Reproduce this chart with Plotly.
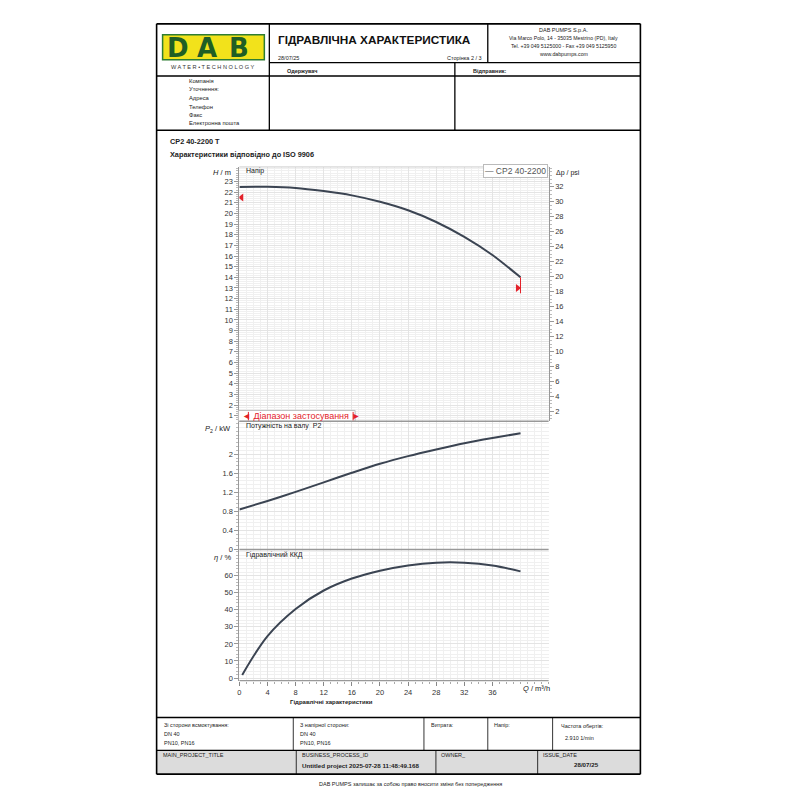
import plotly.graph_objects as go

# ---------------- data ----------------
Q = [0, 4, 8, 12, 16, 20, 24, 28, 32, 36, 40]
H_m = [22.48, 22.5, 22.4, 22.1, 21.7, 21.1, 20.3, 19.2, 17.8, 16.1, 14.0]
P2_kW = [0.84, 1.02, 1.21, 1.41, 1.61, 1.80, 1.96, 2.10, 2.23, 2.34, 2.44]
Q_eta = [0.4, 4, 8, 12, 16, 20, 24, 28, 32, 36, 40]
eta_pct = [1.8, 24.6, 40.5, 51.3, 58.3, 62.9, 66, 67.6, 67.6, 66, 62.5]
range_min = (0.3, 21.5)
range_max = (39.6, 13.0)
x_ticks = [0, 4, 8, 12, 16, 20, 24, 28, 32, 36]
h_ticks = list(range(1, 24))
psi_ticks = list(range(2, 33, 2))
p_ticks = [0, 0.4, 0.8, 1.2, 1.6, 2]
eta_ticks = [0, 10, 20, 30, 40, 50, 60]
M_TO_PSI = 1.4223

FONT = "Liberation Sans, Arial, sans-serif"
W = 800


def px(x):
    return x / W


def py(y):
    return 1 - y / W


H_RANGE = [0.47, 24.37]
fig = go.Figure()

curve = dict(color="#3b4452", width=2)
fig.add_trace(go.Scatter(x=Q, y=H_m, mode="lines", line=dict(shape="spline", smoothing=0.8, **curve),
                         xaxis="x3", yaxis="y", name="CP2 40-2200", showlegend=False))
fig.add_trace(go.Scatter(x=[0], y=[0], mode="markers", marker=dict(opacity=0),
                         xaxis="x3", yaxis="y4", showlegend=False, hoverinfo="skip"))
fig.add_trace(go.Scatter(x=Q, y=P2_kW, mode="lines", line=dict(shape="spline", smoothing=0.8, **curve),
                         xaxis="x2", yaxis="y2", showlegend=False))
fig.add_trace(go.Scatter(x=Q_eta, y=eta_pct, mode="lines", line=dict(shape="spline", smoothing=1.0, **curve),
                         xaxis="x", yaxis="y3", showlegend=False))
# application range markers
fig.add_trace(go.Scatter(x=[range_min[0]], y=[range_min[1]], mode="markers",
                         marker=dict(symbol="triangle-left", size=7, color="#e3222b"),
                         xaxis="x3", yaxis="y", showlegend=False))
fig.add_trace(go.Scatter(x=[range_max[0]], y=[range_max[1]], mode="markers",
                         marker=dict(symbol="triangle-right", size=7, color="#e3222b"),
                         xaxis="x3", yaxis="y", showlegend=False))
fig.add_trace(go.Scatter(x=[Q[-1], Q[-1]], y=[H_m[-1], range_max[1] - 0.5], mode="lines",
                         line=dict(color="#e3222b", width=1),
                         xaxis="x3", yaxis="y", showlegend=False))

XD = [px(238), px(548)]
tickfont = dict(family=FONT, size=7.5, color="#333")
grid = "#e4e4e4"
mgrid = "#f0f0f0"

xcommon = dict(domain=XD, range=[0, 44], showgrid=True, gridcolor=grid, zeroline=False,
               minor=dict(dtick=1, showgrid=True, gridcolor=mgrid), showline=False)

fig.update_layout(
    width=800, height=800, margin=dict(l=0, r=0, t=0, b=0),
    paper_bgcolor="white", plot_bgcolor="white", font=dict(family=FONT),
    xaxis=dict(anchor="y3", tickvals=x_ticks, tickfont=tickfont, ticks="outside", ticklen=4,
               tickcolor="#888", **{k: v for k, v in xcommon.items() if k != "minor"},
               minor=dict(dtick=1, showgrid=True, gridcolor=mgrid, ticks="outside", ticklen=2, tickcolor="#aaa")),
    xaxis2=dict(anchor="y2", showticklabels=False, tickvals=x_ticks, **xcommon),
    xaxis3=dict(anchor="y", showticklabels=False, tickvals=x_ticks, **xcommon),
    yaxis=dict(domain=[py(424), py(168)], range=H_RANGE, tickvals=h_ticks, tickfont=tickfont,
               ticks="outside", ticklen=4, tickcolor="#999", showline=True, linecolor="#999",
               showgrid=True, gridcolor=grid, zeroline=False, anchor="x3",
               minor=dict(dtick=0.2, ticks="outside", ticklen=2, tickcolor="#bbb",
                          showgrid=True, gridcolor=mgrid)),
    yaxis4=dict(overlaying="y", side="right", anchor="x3",
                range=[H_RANGE[0] * M_TO_PSI, H_RANGE[1] * M_TO_PSI], tickvals=psi_ticks,
                tickfont=tickfont, ticks="outside", ticklen=4, tickcolor="#999",
                showline=True, linecolor="#999", showgrid=False, zeroline=False,
                minor=dict(dtick=0.5, ticks="outside", ticklen=2, tickcolor="#bbb")),
    yaxis2=dict(domain=[py(553), py(424)], range=[0, 2.69], tickvals=p_ticks, tickfont=tickfont,
                ticks="outside", ticklen=4, tickcolor="#999", showline=True, linecolor="#999",
                showgrid=True, gridcolor=grid, zeroline=False, anchor="x2",
                minor=dict(dtick=0.08, ticks="outside", ticklen=2, tickcolor="#bbb",
                           showgrid=True, gridcolor=mgrid)),
    yaxis3=dict(domain=[py(685), py(553)], range=[-1.57, 75.3], tickvals=eta_ticks, tickfont=tickfont,
                ticks="outside", ticklen=4, tickcolor="#999", showline=True, linecolor="#999",
                showgrid=True, gridcolor=grid, zeroline=False, anchor="x",
                minor=dict(dtick=2, ticks="outside", ticklen=2, tickcolor="#bbb",
                           showgrid=True, gridcolor=mgrid)),
)

shapes = []


def line(x0, y0, x1, y1, color="black", width=1.3):
    shapes.append(dict(type="line", xref="paper", yref="paper", x0=px(x0), y0=py(y0),
                       x1=px(x1), y1=py(y1), line=dict(color=color, width=width)))


def rect(x0, y0, x1, y1, fill, color="rgba(0,0,0,0)", width=0, layer="below"):
    shapes.append(dict(type="rect", xref="paper", yref="paper", x0=px(x0), y0=py(y0),
                       x1=px(x1), y1=py(y1), fillcolor=fill, line=dict(color=color, width=width),
                       layer=layer))


# gray bottom row
rect(155, 755, 640, 779, "#dcdcdc")
# logo
rect(161, 35, 263, 60, "#f2e21b", "#2e7d32", 1.5, layer="above")
# application range box
rect(237, 413, 354, 424, "white", "#bbb", 1, layer="above")

# outer frame and header lines
line(155, 24, 640, 24, width=1.6)
line(155, 779, 640, 779, width=1.6)
line(155, 24, 155, 779, width=1.6)
line(640, 24, 640, 779, width=1.6)
line(268, 24, 268, 131)
line(487, 24, 487, 63)
line(268, 63, 640, 63)
line(155, 76.5, 640, 76.5, width=1.6)
line(454, 63, 454, 131)
line(155, 131, 640, 131, width=1.6)
# table
line(155, 722, 640, 722, width=1.6)
line(155, 755, 640, 755)
for xv in [292, 423, 487, 552]:
    line(xv, 722, xv, 755, width=0.8)
for xv in [295, 435, 537]:
    line(xv, 755, xv, 779, width=0.8)
# plot separators
line(238, 424, 548, 424, color="#999", width=1.5)
line(238, 553, 548, 553, color="#999", width=1.5)
line(238, 685, 548, 685, color="#999", width=1.2)
line(238, 168, 548, 168, color="#ccc", width=1)
# application-range bars
line(247, 414.5, 247, 423, color="#e3222b", width=1)
line(352, 414.5, 352, 423, color="#e3222b", width=1)

fig.update_layout(shapes=shapes)

ann = []


def text(x, y, s, size=6, color="#222", anchor="left", bold=False, family=FONT, **kw):
    if bold:
        s = "<b>" + s + "</b>"
    ann.append(dict(x=px(x), y=py(y), xref="paper", yref="paper", text=s, showarrow=False,
                    xanchor=anchor, yanchor="middle", font=dict(size=size, color=color, family=family), **kw))


# logo text
for lx, letter in [(176, "D"), (206, "A"), (237.5, "B")]:
    text(lx, 48, letter, size=26, color="#1f5e25", anchor="center", bold=True,
         family="DejaVu Sans, sans-serif")
text(212, 67, "W A T E R • T E C H N O L O G Y", size=5.6, color="#333", anchor="center")
# header
text(275, 40, "ГІДРАВЛІЧНА ХАРАКТЕРИСТИКА", size=11.8, color="#111", bold=True)
text(275, 58, "28/07/25", size=5.5)
text(483, 58, "Сторінка 2 / 3", size=5.5, anchor="right")
text(563, 30, "DAB PUMPS S.p.A.", size=5.5, anchor="center")
text(563, 38, "Via Marco Polo, 14 - 35035 Mestrino (PD), Italy", size=5.2, anchor="center")
text(563, 46, "Tel. +39 049 5125000 - Fax +39 049 5125950", size=5.2, anchor="center")
text(563, 54, "www.dabpumps.com", size=5.2, anchor="center")
text(284, 71.5, "Одержувач", size=5.5, bold=True)
text(470, 71.5, "Відправник:", size=5.5, bold=True)
for yy, s in [(82, "Компанія"), (90, "Уточнення:"), (99, "Адреса"), (108, "Телефон"),
              (116, "Факс"), (124, "Електронна пошта")]:
    text(185, yy, s, size=5.8)
text(166, 142, "CP2 40-2200 T", size=7.3, bold=True)
text(166, 155, "Характеристики відповідно до ISO 9906", size=7.3, bold=True)

# axis titles and plot labels
text(232, 174, "<i>H</i> / m", size=7.5, anchor="right")
text(567, 174, "Δp / psi", size=7, anchor="center")
text(232, 432, "<i>P</i><sub>2</sub> / kW", size=7.5, anchor="right")
text(232, 561, "<i>η</i> / %", size=7.5, anchor="right")
text(520, 693, "<i>Q</i> / m³/h", size=7.5)
text(330, 706, "Гідравлічні характеристики", size=6, bold=True, anchor="center")
text(243, 172, "Напір", size=7)
text(243, 429, "Потужність на валу  P2", size=7)
text(243, 558, "Гідравлічний ККД", size=7)
# legend
ann.append(dict(x=px(547), y=py(172), xref="paper", yref="paper", xanchor="right", yanchor="middle",
                text="— CP2 40-2200", showarrow=False, font=dict(size=8.5, color="#555", family=FONT),
                bordercolor="#bbb", borderwidth=1, borderpad=1, bgcolor="white"))
# application range label
ann.append(dict(x=px(299.5), y=py(419), xref="paper", yref="paper", xanchor="center", yanchor="middle",
                text="◄ Діапазон застосування ►", showarrow=False,
                font=dict(size=9, color="#e3222b", family=FONT)))

# table texts
text(160, 730, "Зі сторони всмоктування:", size=5.5)
text(160, 739, "DN 40", size=5.5)
text(160, 748, "PN10, PN16", size=5.5)
text(297, 730, "З напірної сторони:", size=5.5)
text(297, 739, "DN 40", size=5.5)
text(297, 748, "PN10, PN16", size=5.5)
text(428, 730, "Витрата:", size=5.5)
text(491, 730, "Напір:", size=5.5)
text(558, 731, "Частота обертів:", size=5.5)
text(562, 743, "2.910 1/min", size=5.5)
text(159, 760, "MAIN_PROJECT_TITLE", size=5.5)
text(299, 760, "BUSINESS_PROCESS_ID", size=5.5)
text(299, 770, "Untitled project 2025-07-28 11:48:49.168", size=6.2, bold=True)
text(438, 760, "OWNER_", size=5.5)
text(540, 760, "ISSUE_DATE", size=5.5)
text(586, 769, "28/07/25", size=6.2, bold=True, anchor="center")
text(410, 789, "DAB PUMPS залишає за собою право вносити зміни без попередження", size=5.5, anchor="center")

fig.update_layout(annotations=ann)
fig.write_html("out.html")
